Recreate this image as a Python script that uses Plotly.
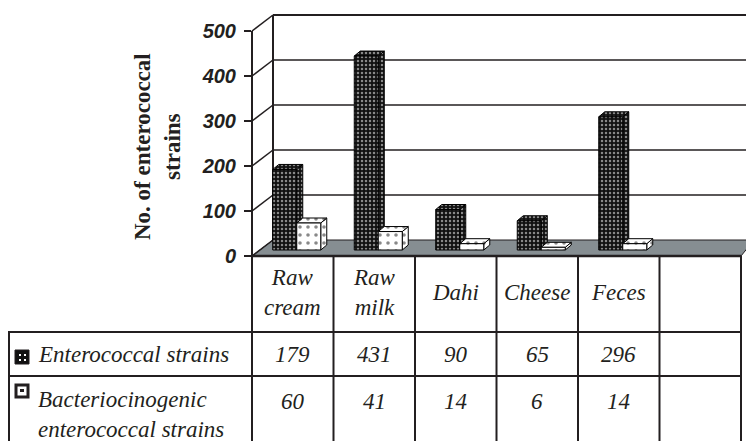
import plotly.graph_objects as go

# ---------------- data ----------------
categories = ["Raw cream", "Raw milk", "Dahi", "Cheese", "Feces"]
header_labels = ["Raw<br>cream", "Raw<br>milk", "Dahi", "Cheese", "Feces"]
enterococcal = [179, 431, 90, 65, 296]
bacteriocinogenic = [60, 41, 14, 6, 14]
series_labels = ["Enterococcal strains", "Bacteriocinogenic<br>enterococcal strains"]
y_ticks = [0, 100, 200, 300, 400, 500]
y_title = "No. of enterococcal<br>strains"

# ---------------- geometry (page pixels) ----------------
W, H = 754, 441
OFF = 8             # page offset of the figure div (default body margin)
AX_X = 252          # front y-axis line
COL_W = 81.5        # width of one category column
N_COLS = 6          # 5 categories + one empty column
K = 0.45            # pixels per unit value
FRONT0 = 256        # y pixel of value 0 on the front plane
BACK0 = 240         # y pixel of value 0 on the back wall
BAR0 = 250          # y pixel of value 0 on the bar plane
DEPTH_X = 21        # horizontal depth of the floor
BAR_SHIFT = 4       # shift of bar plane relative to column centres
BAR_W_PX = 24
SIDE_DX_PX = 6
SIDE_DY_PX = 5
TOP_PX = 31
TABLE_LEFT = 8
ROW1_Y = 332
ROW2_Y = 376
INK = "#231f20"


def px(x):
    return (x - OFF) / W


def py(y):
    return 1 - (y - OFF) / H


x0 = -(AX_X + COL_W / 2 + BAR_SHIFT - OFF) / COL_W
x_range = [x0, x0 + W / COL_W]
y_dom = [0, py(TOP_PX)]
y_range = [-(H + OFF - BAR0) / K, (BAR0 - TOP_PX) / K]
y3_range = [-(H + OFF - FRONT0) / K, (FRONT0 - TOP_PX) / K]

bw = BAR_W_PX / COL_W
dx = SIDE_DX_PX / COL_W
dy = SIDE_DY_PX / K

dark_pattern = dict(shape=".", bgcolor="#111111", fgcolor="white", size=4, solidity=0.3)
light_pattern = dict(shape=".", bgcolor="white", fgcolor="#111111", size=8, solidity=0.16)

series = [
    (enterococcal, -bw, dark_pattern, "#111111", "Enterococcal strains"),
    (bacteriocinogenic, 0.0, light_pattern, "white", "Bacteriocinogenic enterococcal strains"),
]

fig = go.Figure()

# 3D faces (side + top) on the base subplot, below the bar fronts
for vals, off, pat, col, name in series:
    for i, v in enumerate(vals):
        xl = i + off
        xr = xl + bw
        top_x = [xl, xl + dx, xr + dx, xr, xl]
        top_y = [v, v + dy, v + dy, v, v]
        side_x = [xr, xr + dx, xr + dx, xr, xr]
        side_y = [0, dy, v + dy, v, 0]
        for fx, fy in ((side_x, side_y), (top_x, top_y)):
            fig.add_trace(go.Scatter(
                x=fx, y=fy, mode="lines", fill="toself",
                fillcolor=col, fillpattern=pat,
                line=dict(color="black", width=1),
                xaxis="x", yaxis="y", showlegend=False, hoverinfo="skip"))

# front faces as bars on the overlay subplot
for vals, off, pat, col, name in series:
    fig.add_trace(go.Bar(
        x=list(range(len(categories))), y=vals, width=bw, offset=off,
        name=name, marker=dict(color=col, pattern=pat, line=dict(color="black", width=1)),
        xaxis="x2", yaxis="y2", showlegend=False,
        customdata=categories, hovertemplate="%{customdata}: %{y}<extra>" + name + "</extra>"))

# dummy trace for the front tick axis
fig.add_trace(go.Scatter(x=[None], y=[None], xaxis="x", yaxis="y3", showlegend=False, hoverinfo="skip"))

shapes = []
# floor
floor_path = (f"M {px(AX_X)} {py(FRONT0)} L {px(AX_X + DEPTH_X)} {py(BACK0)} "
              f"L {px(754)} {py(BACK0)} L {px(AX_X + COL_W * N_COLS)} {py(FRONT0)} Z")
shapes.append(dict(type="path", path=floor_path, xref="paper", yref="paper",
                   fillcolor="#868e92", line=dict(color=INK, width=1), layer="below"))
# back wall gridlines and left wall connectors
for t in y_ticks:
    yb = BACK0 - K * t
    yf = FRONT0 - K * t
    if t > 0:
        shapes.append(dict(type="line", xref="paper", yref="paper",
                           x0=px(AX_X + DEPTH_X), y0=py(yb), x1=px(W + OFF), y1=py(yb),
                           line=dict(color=INK, width=1.5 if t < 500 else 2), layer="below"))
    shapes.append(dict(type="line", xref="paper", yref="paper",
                       x0=px(AX_X), y0=py(yf), x1=px(AX_X + DEPTH_X), y1=py(yb),
                       line=dict(color=INK, width=1.5), layer="below"))
shapes.append(dict(type="line", xref="paper", yref="paper",
                   x0=px(AX_X + DEPTH_X), y0=py(BACK0 - K * 500), x1=px(AX_X + DEPTH_X), y1=py(BACK0),
                   line=dict(color=INK, width=2), layer="below"))

# table
tbl_right = AX_X + COL_W * N_COLS
shapes.append(dict(type="line", xref="paper", yref="paper",
                   x0=px(AX_X), y0=py(FRONT0), x1=px(tbl_right), y1=py(FRONT0),
                   line=dict(color=INK, width=2.5)))
for j in range(1, N_COLS + 1):
    xx = AX_X + COL_W * j
    shapes.append(dict(type="line", xref="paper", yref="paper",
                       x0=px(xx), y0=py(FRONT0), x1=px(xx), y1=0,
                       line=dict(color=INK, width=2)))
for yy in (ROW1_Y, ROW2_Y):
    shapes.append(dict(type="line", xref="paper", yref="paper",
                       x0=px(TABLE_LEFT), y0=py(yy), x1=px(tbl_right), y1=py(yy),
                       line=dict(color=INK, width=2)))
shapes.append(dict(type="line", xref="paper", yref="paper",
                   x0=px(TABLE_LEFT + 1), y0=py(ROW1_Y), x1=px(TABLE_LEFT + 1), y1=0,
                   line=dict(color=INK, width=2)))
# legend keys
shapes.append(dict(type="rect", xref="paper", yref="paper",
                   x0=px(15), y0=py(364), x1=px(29), y1=py(350),
                   fillcolor="#111111", line=dict(color=INK, width=1)))
for (ax, ay) in ((19, 354), (24, 354), (19, 359), (24, 359)):
    shapes.append(dict(type="rect", xref="paper", yref="paper",
                       x0=px(ax), y0=py(ay + 2), x1=px(ax + 2), y1=py(ay),
                       fillcolor="white", line=dict(width=0)))
shapes.append(dict(type="rect", xref="paper", yref="paper",
                   x0=px(16), y0=py(397), x1=px(28), y1=py(385),
                   fillcolor="white", line=dict(color=INK, width=3)))
shapes.append(dict(type="rect", xref="paper", yref="paper",
                   x0=px(20), y0=py(392), x1=px(24), y1=py(389),
                   fillcolor=INK, line=dict(width=0)))

annotations = []
serif_it = dict(family="Liberation Serif", size=23, color=INK, style="italic")
col_centers = [AX_X + COL_W * (j + 0.5) for j in range(len(categories))]
for c, lab in zip(col_centers, header_labels):
    annotations.append(dict(text=lab, x=px(c), y=py(292), xref="paper", yref="paper",
                            showarrow=False, font=serif_it, xanchor="center", yanchor="middle"))
for c, v in zip(col_centers, enterococcal):
    annotations.append(dict(text=str(v), x=px(c), y=py(354), xref="paper", yref="paper",
                            showarrow=False, font=serif_it, xanchor="center", yanchor="middle"))
for c, v in zip(col_centers, bacteriocinogenic):
    annotations.append(dict(text=str(v), x=px(c), y=py(401), xref="paper", yref="paper",
                            showarrow=False, font=serif_it, xanchor="center", yanchor="middle"))
annotations.append(dict(text=series_labels[0], x=px(36), y=py(354), xref="paper", yref="paper",
                        showarrow=False, font=serif_it, xanchor="left", yanchor="middle", align="left"))
annotations.append(dict(text=series_labels[1], x=px(36), y=py(414), xref="paper", yref="paper",
                        showarrow=False, font=serif_it, xanchor="left", yanchor="middle", align="left"))
annotations.append(dict(text=y_title, x=px(157), y=py(147), xref="paper", yref="paper",
                        showarrow=False, textangle=-90,
                        font=dict(family="Liberation Serif", size=23, color=INK, weight="bold"),
                        xanchor="center", yanchor="middle"))

fig.update_layout(
    width=W, height=H, autosize=False,
    margin=dict(l=0, r=0, t=0, b=0, pad=0, autoexpand=False),
    paper_bgcolor="white", plot_bgcolor="rgba(0,0,0,0)",
    barmode="overlay",
    xaxis=dict(domain=[0, 1], range=x_range, visible=False, fixedrange=True),
    yaxis=dict(domain=y_dom, range=y_range, visible=False, fixedrange=True),
    xaxis2=dict(overlaying="x", range=x_range, visible=False, fixedrange=True),
    yaxis2=dict(overlaying="y", range=y_range, visible=False, fixedrange=True),
    yaxis3=dict(overlaying="y", anchor="free", position=px(AX_X), side="left",
                range=y3_range, tickvals=y_ticks, ticktext=[str(t) for t in y_ticks],
                showgrid=False, zeroline=False, showline=True, linecolor=INK, linewidth=2,
                ticks="outside", ticklen=7, tickwidth=2, tickcolor=INK, ticklabelstandoff=4,
                automargin=False,
                tickfont=dict(family="Liberation Sans", size=20, color=INK, weight="bold", style="italic"),
                fixedrange=True),
    shapes=shapes,
    annotations=annotations,
    showlegend=False,
)

fig.write_html("out.html")
